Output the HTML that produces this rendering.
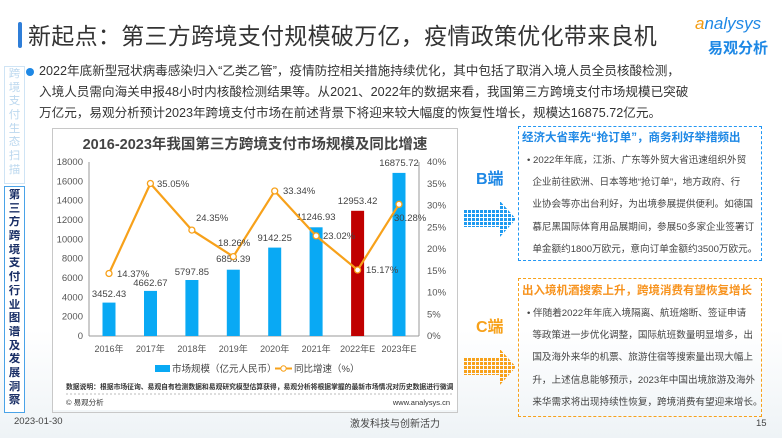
<!DOCTYPE html>
<html><head><meta charset="utf-8"><style>
body{margin:0;width:782px;height:438px;overflow:hidden;background:#fff;font-family:"Liberation Sans","Noto Sans CJK SC",sans-serif;position:relative}
.a{position:absolute}
.side{position:absolute;left:4px;width:21px;background:#fff;text-align:center;font-size:11.5px;font-weight:bold;box-sizing:border-box;padding-top:2px}
.side span{display:block;height:13.7px;line-height:13.7px;overflow:hidden}
.txt{font-size:12.6px;color:#333;line-height:21px;white-space:nowrap}
.box{position:absolute;left:518px;width:244px;font-size:9.6px;color:#444;line-height:22.2px;box-sizing:border-box;white-space:nowrap;overflow:hidden}
</style></head><body>
<div class="a" style="left:0;top:330px;width:782px;height:108px;background:linear-gradient(#fff,#eef3f6)"></div>
<div class="a" style="left:18px;top:22px;width:4px;height:26px;background:#2f7ed8;border-radius:2px"></div>
<div class="a" style="left:28px;top:17px;font-size:23px;color:#333;letter-spacing:0.3px">新起点：第三方跨境支付规模破万亿，疫情政策优化带来良机</div>
<div class="a" style="left:695px;top:14px;font-size:17px;color:#1e88e5;font-style:italic"><span style="color:#f39c12">a</span>nalysys</div>
<div class="a" style="left:708px;top:37px;font-size:15px;color:#1e88e5;font-weight:bold">易观分析</div>
<div class="a" style="left:26px;top:68px;width:8px;height:8px;border-radius:50%;background:#1e88e5"></div>
<div class="a txt" style="left:39px;top:61px">2022年底新型冠状病毒感染归入“乙类乙管”，疫情防控相关措施持续优化，其中包括了取消入境人员全员核酸检测，<br>入境人员需向海关申报48小时内核酸检测结果等。从2021、2022年的数据来看，我国第三方跨境支付市场规模已突破<br>万亿元，易观分析预计2023年跨境支付市场在前述背景下将迎来较大幅度的恢复性增长，规模达16875.72亿元。</div>
<div class="side" style="top:66px;height:118px;border:1px solid #cfe4f5;color:#bcd8ef;font-weight:normal;padding-top:1px"><span>跨</span><span>境</span><span>支</span><span>付</span><span>生</span><span>态</span><span>扫</span><span>描</span></div>
<div class="side" style="top:186px;height:227px;border:1.5px solid #4aa3e8;color:#1a2f66"><span>第</span><span>三</span><span>方</span><span>跨</span><span>境</span><span>支</span><span>付</span><span>行</span><span>业</span><span>图</span><span>谱</span><span>及</span><span>发</span><span>展</span><span>洞</span><span>察</span></div>
<svg class="a" style="left:52px;top:155px" width="405" height="255">
<g transform="translate(-52,-155)" font-family="Liberation Sans,Noto Sans CJK SC,sans-serif">
<rect x="53" y="155" width="404" height="255" fill="#fff"/>
<g font-size="9.5" fill="#555" text-anchor="end">
<text x="83" y="339">0</text><text x="83" y="319.7">2000</text><text x="83" y="300.3">4000</text><text x="83" y="281">6000</text><text x="83" y="261.7">8000</text><text x="83" y="242.3">10000</text><text x="83" y="223">12000</text><text x="83" y="203.7">14000</text><text x="83" y="184.3">16000</text><text x="83" y="165">18000</text>
</g>
<g font-size="9.5" fill="#555">
<text x="427" y="339">0%</text><text x="427" y="317.3">5%</text><text x="427" y="295.5">10%</text><text x="427" y="273.8">15%</text><text x="427" y="252">20%</text><text x="427" y="230.3">25%</text><text x="427" y="208.5">30%</text><text x="427" y="186.8">35%</text><text x="427" y="165">40%</text>
</g>
<line x1="89" y1="162" x2="89" y2="336" stroke="#999"/>
<line x1="419" y1="162" x2="419" y2="336" stroke="#999"/>
<line x1="89" y1="336" x2="419" y2="336" stroke="#999"/>
<g fill="#09a9f4">
<rect x="102.5" y="302.6" width="13" height="33.4"/><rect x="144" y="290.9" width="13" height="45.1"/><rect x="185.4" y="280" width="13" height="56"/><rect x="226.8" y="269.7" width="13" height="66.3"/><rect x="268.2" y="247.6" width="13" height="88.4"/><rect x="309.6" y="227.3" width="13" height="108.7"/><rect x="351.1" y="210.8" width="13" height="125.2" fill="#c00000"/><rect x="392.5" y="172.9" width="13" height="163.1"/>
</g>
<g font-size="9.5" fill="#444" text-anchor="middle">
<text x="109" y="297">3452.43</text><text x="150.4" y="286">4662.67</text><text x="191.9" y="275">5797.85</text><text x="233.3" y="262">6856.39</text><text x="274.7" y="241">9142.25</text><text x="316.1" y="220">11246.93</text><text x="357.6" y="204">12953.42</text><text x="399" y="166">16875.72</text>
</g>
<polyline points="109,273.5 150.4,183.5 191.9,230.1 233.3,256.6 274.7,191 316.1,235.9 357.6,270 399,204.3" fill="none" stroke="#f7a11a" stroke-width="2.2"/>
<g fill="#fff" stroke="#f7a11a" stroke-width="1.3">
<circle cx="109" cy="273.5" r="3"/><circle cx="150.4" cy="183.5" r="3"/><circle cx="191.9" cy="230.1" r="3"/><circle cx="233.3" cy="256.6" r="3"/><circle cx="274.7" cy="191" r="3"/><circle cx="316.1" cy="235.9" r="3"/><circle cx="357.6" cy="270" r="3"/><circle cx="399" cy="204.3" r="3"/>
</g>
<g font-size="9.5" fill="#444">
<text x="117" y="277">14.37%</text><text x="157" y="187">35.05%</text><text x="196" y="221">24.35%</text><text x="218" y="246">18.26%</text><text x="283" y="194">33.34%</text><text x="323" y="239">23.02%</text><text x="366" y="273">15.17%</text><text x="394" y="221">30.28%</text>
</g>
<g font-size="9" fill="#555" text-anchor="middle">
<text x="109" y="352">2016年</text><text x="150.4" y="352">2017年</text><text x="191.9" y="352">2018年</text><text x="233.3" y="352">2019年</text><text x="274.7" y="352">2020年</text><text x="316.1" y="352">2021年</text><text x="357.6" y="352">2022年E</text><text x="399" y="352">2023年E</text>
</g>
<rect x="155" y="365" width="15" height="7" fill="#09a9f4"/>
<text x="172" y="372" font-size="9.5" fill="#444">市场规模（亿元人民币）</text>
<line x1="275" y1="368.5" x2="292" y2="368.5" stroke="#f7a11a" stroke-width="2"/><circle cx="283.5" cy="368.5" r="2.7" fill="#fff" stroke="#f7a11a"/>
<text x="294" y="372" font-size="9.5" fill="#444">同比增速（%）</text>
<text x="66" y="389" font-size="6.8" font-weight="bold" fill="#333">数据说明：根据市场征询、易观自有检测数据和易观研究模型估算获得，易观分析将根据掌握的最新市场情况对历史数据进行微调</text>
<line x1="66" y1="394" x2="452" y2="394" stroke="#bbb" stroke-dasharray="2,2"/>
<text x="66" y="405" font-size="7.5" fill="#333">© 易观分析</text>
<text x="450" y="405" font-size="7.5" fill="#333" text-anchor="end">www.analysys.cn</text>
</g></svg>
<div class="a" style="left:52px;top:128px;width:406px;height:285px;border:1px solid #c8c8c8;box-sizing:border-box"></div>
<div class="a" style="left:53px;top:129px;width:404px;height:26px;background:#fff"></div>
<div class="a" style="left:52px;top:133px;width:406px;text-align:center;font-size:14.5px;font-weight:bold;color:#444">2016-2023年我国第三方跨境支付市场规模及同比增速</div>
<div class="a" style="left:476px;top:165px;font-size:16px;font-weight:bold;color:#1e88e5">B端</div>
<div class="a" style="left:476px;top:313px;font-size:16px;font-weight:bold;color:#f7a11a">C端</div>
<svg class="a" style="left:464px;top:198px" width="56" height="42">
<defs><pattern id="pb" width="4" height="4" patternUnits="userSpaceOnUse"><rect width="3" height="3" fill="#1e9af0"/></pattern></defs>
<rect x="0" y="12" width="35" height="17" fill="url(#pb)"/><polygon points="35,2 52,21 35,40" fill="url(#pb)"/></svg>
<svg class="a" style="left:464px;top:346px" width="56" height="42">
<defs><pattern id="po2" width="4" height="4" patternUnits="userSpaceOnUse"><rect width="3" height="3" fill="#f7a11a"/></pattern></defs>
<rect x="0" y="12" width="35" height="17" fill="url(#po2)"/><polygon points="35,2 52,21 35,40" fill="url(#po2)"/></svg>
<div class="box" style="top:126px;height:135px;border:1px dashed #2196f3">
<div style="color:#1e88e5;font-weight:bold;font-size:11.5px;padding-left:3px;line-height:20px;margin-top:1px">经济大省率先“抢订单”，商务利好举措频出</div>
<div style="padding:2px 2px 0 8px">• 2022年年底，江浙、广东等外贸大省迅速组织外贸<br>&nbsp;&nbsp;企业前往欧洲、日本等地“抢订单”，地方政府、行<br>&nbsp;&nbsp;业协会等亦出台利好，为出境参展提供便利。如德国<br>&nbsp;&nbsp;慕尼黑国际体育用品展期间，参展50多家企业签署订<br>&nbsp;&nbsp;单金额约1800万欧元，意向订单金额约3500万欧元。</div></div>
<div class="box" style="top:278px;height:139px;border:1px dashed #f7a11a">
<div style="color:#f7931e;font-weight:bold;font-size:11.5px;padding-left:3px;line-height:20px;margin-top:2px">出入境机酒搜索上升，跨境消费有望恢复增长</div>
<div style="padding:2px 2px 0 8px">• 伴随着2022年年底入境隔离、航班熔断、签证申请<br>&nbsp;&nbsp;等政策进一步优化调整，国际航班数量明显增多，出<br>&nbsp;&nbsp;国及海外来华的机票、旅游住宿等搜索量出现大幅上<br>&nbsp;&nbsp;升，上述信息能够预示，2023年中国出境旅游及海外<br>&nbsp;&nbsp;来华需求将出现持续性恢复，跨境消费有望迎来增长。</div></div>
<div class="a" style="left:14px;top:416px;font-size:9.5px;color:#444">2023-01-30</div>
<div class="a" style="left:350px;top:415px;font-size:10px;color:#444">激发科技与创新活力</div>
<div class="a" style="left:756px;top:418px;font-size:9.5px;color:#444">15</div>
</body></html>
